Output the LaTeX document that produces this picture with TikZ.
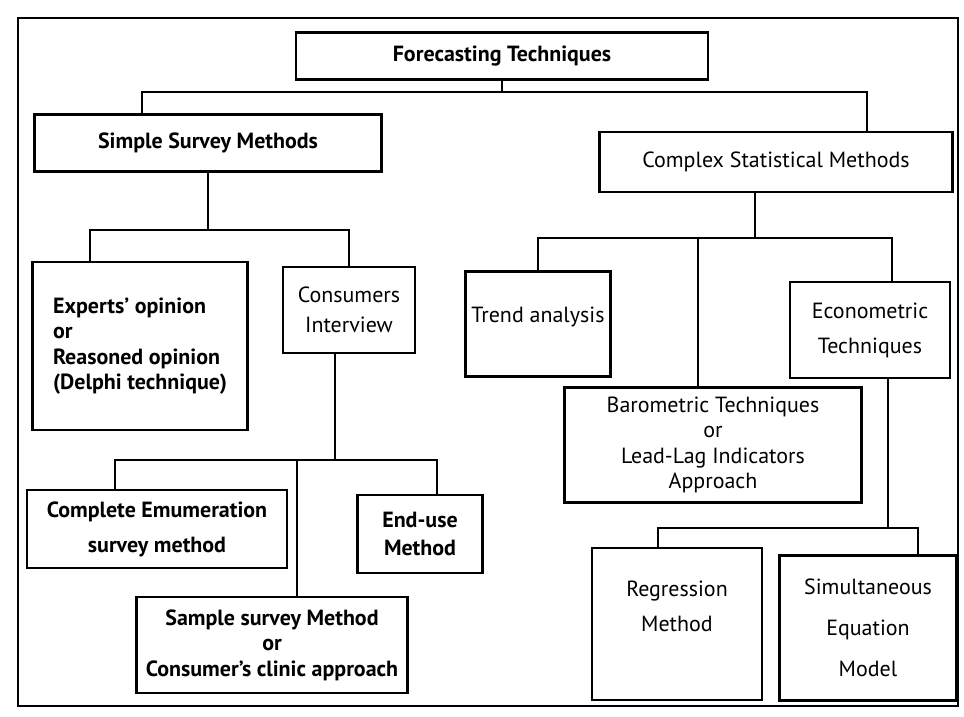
\documentclass[tikz,border=0pt]{standalone}
\usepackage{fontspec}
\setmainfont{PT Sans}
\usetikzlibrary{positioning}

\begin{document}
\begin{tikzpicture}[
    x=0.02cm, y=-0.02cm,
    box/.style={draw, line width=1.3pt, align=center, inner sep=2pt,
        font=\fontsize{12.5}{14.5}\selectfont},
    boldbox/.style={box, font=\fontsize{12.5}{14.5}\selectfont\bfseries},
    link/.style={line width=1.3pt}
]
\useasboundingbox (0,0) rectangle (964,717);
\draw[line width=1.1pt] (18,18) rectangle (958,706);

% top levels
\node[boldbox, minimum width=8.24cm, minimum height=0.94cm] (ft) at (502,56) {Forecasting Techniques};
\node[boldbox, minimum width=6.94cm, minimum height=1.14cm] (ssm) at (208,143) {Simple Survey Methods};
\node[box, minimum width=7.06cm, minimum height=1.2cm] (csm) at (776,162) {Complex Statistical Methods};

% survey side
\node[boldbox, align=left, minimum width=4.3cm, minimum height=3.36cm] (exp) at (140,346)
    {Experts' opinion\\or\\Reasoned opinion\\(Delphi technique)};
\node[box, minimum width=2.64cm, minimum height=1.72cm] (ci) at (349,310) {Consumers\\[2.5pt]Interview};
\node[boldbox, minimum width=5.2cm, minimum height=1.56cm] (cem) at (157,529)
    {Complete Emumeration\\[5.5pt]survey method};
\node[boldbox, minimum width=2.5cm, minimum height=1.56cm] (eum) at (420,534) {End-use\\[1.5pt]Method};
\node[boldbox, minimum width=5.42cm, minimum height=1.92cm] (ssv) at (272,645)
    {Sample survey Method\\or\\Consumer's clinic approach};

% statistical side
\node[box, minimum width=2.9cm, minimum height=2.1cm] (trd) at (538,324) {Trend analysis\\[-4.5pt]~};
\node[box, minimum width=3.2cm, minimum height=1.92cm] (eco) at (870,330) {Econometric\\[5.5pt]Techniques};
\node[box, minimum width=5.94cm, minimum height=2.3cm] (bar) at (713,445)
    {Barometric Techniques\\or\\Lead-Lag Indicators\\Approach};
\node[box, minimum width=3.4cm, minimum height=3.04cm] (reg) at (677,624) {Regression\\[5.5pt]Method\\[5.5pt]~};
\node[box, minimum width=3.54cm, minimum height=2.9cm] (sem) at (868,628)
    {Simultaneous\\[9pt]Equation\\[9pt]Model};

% junctions
\coordinate (j1) at (502,92);
\coordinate (j1l) at (142,92);
\coordinate (j1r) at (867,92);
\coordinate (j2l) at (90,230);
\coordinate (j2r) at (349,230);
\coordinate (j3) at (755,238);
\coordinate (j3l) at (538,238);
\coordinate (j3m) at (698,238);
\coordinate (j3r) at (892,238);
\coordinate (j4) at (335,460);
\coordinate (j4l) at (115,460);
\coordinate (j4m) at (297,460);
\coordinate (j4r) at (437,460);
\coordinate (j5) at (888,528);
\coordinate (j5l) at (658,528);
\coordinate (j5r) at (918,528);

% connectors
\draw[link] (ft.south) -- (j1);
\draw[link] (ssm.north -| j1l) |- (j1r) -- (j1r |- csm.north);

\draw[link] (ssm.south) -- (ssm.south |- j2l);
\draw[link] (exp.north -| j2l) |- (j2r) -- (ci.north);

\draw[link] (csm.south -| j3) -- (j3);
\draw[link] (trd.north) |- (j3r) -- (j3r |- eco.north);
\draw[link] (j3m) -- (j3m |- bar.north);

\draw[link] (ci.south -| j4) -- (j4);
\draw[link] (cem.north -| j4l) |- (j4r) -- (j4r |- eum.north);
\draw[link] (j4m) -- (j4m |- ssv.north);

\draw[link] (eco.south -| j5) -- (j5);
\draw[link] (reg.north -| j5l) |- (j5r) -- (j5r |- sem.north);
\end{tikzpicture}
\end{document}
